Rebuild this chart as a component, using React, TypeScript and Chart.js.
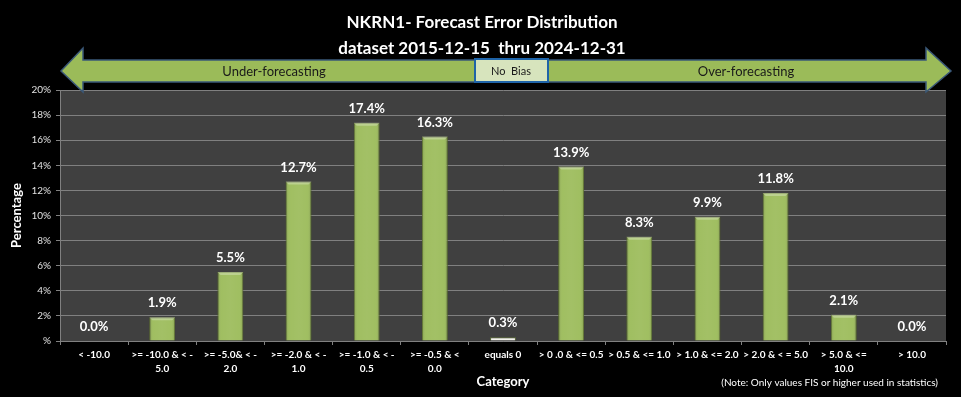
import React, { useEffect, useRef } from "react";
import { Chart, registerables } from "chart.js";

Chart.register(...registerables);

const titleLines = ["NKRN1- Forecast Error Distribution", "dataset 2015-12-15  thru 2024-12-31"];
const categories: (string | string[])[] = [
  "< -10.0",
  [">= -10.0 & < -", "5.0"],
  [">= -5.0& < -", "2.0"],
  [">= -2.0 & < -", "1.0"],
  [">= -1.0 & < -", "0.5"],
  [">= -0.5 & <", "0.0"],
  "equals 0",
  "> 0 .0 & <= 0.5",
  "> 0.5 & <= 1.0",
  "> 1.0 & <= 2.0",
  "> 2.0 & < = 5.0",
  ["> 5.0 & <=", "10.0"],
  "> 10.0",
];
const percentages = [0.0, 1.9, 5.5, 12.7, 17.4, 16.3, 0.3, 13.9, 8.3, 9.9, 11.8, 2.1, 0.0];
const yTickValues = [0, 2, 4, 6, 8, 10, 12, 14, 16, 18, 20];
const noteText = "(Note: Only values FIS or higher used in statistics)";
const leftArrowText = "Under-forecasting";
const rightArrowText = "Over-forecasting";
const midBoxText = "No  Bias";

const FONT = "Lato, 'Open Sans', sans-serif";

const decorPlugin = {
  id: "decor",
  beforeDraw(chart: any) {
    const { ctx, chartArea } = chart;
    ctx.save();
    ctx.fillStyle = "#000000";
    ctx.fillRect(0, 0, chart.width, chart.height);
    ctx.fillStyle = "#404040";
    ctx.fillRect(chartArea.left, chartArea.top, chartArea.right - chartArea.left, chartArea.bottom - chartArea.top);
    ctx.restore();
  },
  afterDraw(chart: any) {
    const { ctx } = chart;
    ctx.save();
    // title
    ctx.fillStyle = "#ffffff";
    ctx.textAlign = "center";
    ctx.textBaseline = "middle";
    ctx.font = `bold 17px ${FONT}`;
    ctx.fillText(titleLines[0], 482, 23);
    ctx.fillText(titleLines[1], 482, 49);

    // double arrow
    const tipL = 61, tipR = 951, headL = 83, headR = 926;
    const midY = 71, bodyT = 60, bodyB = 82, headT = 48, headB = 92;
    ctx.beginPath();
    ctx.moveTo(tipL, midY);
    ctx.lineTo(headL, headT);
    ctx.lineTo(headL, bodyT);
    ctx.lineTo(headR, bodyT);
    ctx.lineTo(headR, headT);
    ctx.lineTo(tipR, midY);
    ctx.lineTo(headR, headB);
    ctx.lineTo(headR, bodyB);
    ctx.lineTo(headL, bodyB);
    ctx.lineTo(headL, headB);
    ctx.closePath();
    ctx.fillStyle = "#9BBB59";
    ctx.fill();
    ctx.lineWidth = 1.5;
    ctx.strokeStyle = "#3A5878";
    ctx.stroke();

    // no bias box
    ctx.fillStyle = "#D7E4BD";
    ctx.fillRect(475, 59, 73, 23);
    ctx.lineWidth = 2;
    ctx.strokeStyle = "#1F64A8";
    ctx.strokeRect(475, 59, 73, 23);

    ctx.fillStyle = "#1a1a1a";
    ctx.font = `11px ${FONT}`;
    ctx.fillText(midBoxText, 511, 71);
    ctx.font = `13px ${FONT}`;
    ctx.fillText(leftArrowText, 274, 72);
    ctx.fillText(rightArrowText, 746, 72);

    // note
    ctx.fillStyle = "#ffffff";
    ctx.font = `10px ${FONT}`;
    ctx.textAlign = "right";
    ctx.fillText(noteText, 938, 383);
    ctx.restore();
  },
  afterDatasetsDraw(chart: any) {
    const { ctx } = chart;
    const meta = chart.getDatasetMeta(0);
    ctx.save();
    meta.data.forEach((el: any, i: number) => {
      const w = el.width;
      const h = el.base - el.y;
      if (i !== 6 && h > 3) {
        const g = ctx.createLinearGradient(el.x - w / 2, 0, el.x + w / 2, 0);
        g.addColorStop(0, "rgba(0,0,0,0.18)");
        g.addColorStop(0.15, "rgba(255,255,255,0.05)");
        g.addColorStop(0.5, "rgba(255,255,255,0.08)");
        g.addColorStop(0.85, "rgba(255,255,255,0.05)");
        g.addColorStop(1, "rgba(0,0,0,0.18)");
        ctx.fillStyle = g;
        ctx.fillRect(el.x - w / 2, el.y, w, h);
        ctx.fillStyle = "rgba(255,255,255,0.28)";
        ctx.beginPath();
        ctx.moveTo(el.x - w / 2, el.y);
        ctx.lineTo(el.x + w / 2, el.y);
        ctx.lineTo(el.x + w / 2 - 3, el.y + 3);
        ctx.lineTo(el.x - w / 2 + 3, el.y + 3);
        ctx.closePath();
        ctx.fill();
      }
      ctx.fillStyle = "#ffffff";
      ctx.font = `bold 13px ${FONT}`;
      ctx.textAlign = "center";
      ctx.textBaseline = "middle";
      ctx.fillText(`${percentages[i].toFixed(1)}%`, el.x, el.y - 14);
    });
    ctx.restore();
  },
};

export default function App() {
  const ref = useRef<HTMLCanvasElement | null>(null);
  useEffect(() => {
    document.body.style.margin = "0";
    document.body.style.background = "#000";
    const canvas = ref.current!;
    const chart = new Chart(canvas, {
      type: "bar",
      data: {
        labels: categories,
        datasets: [
          {
            data: percentages,
            backgroundColor: percentages.map((_, i) => (i === 6 ? "#F2F2EA" : "#9BBB59")),
            borderColor: percentages.map((_, i) => (i === 6 ? "#5E6E3C" : "#71893A")),
            borderWidth: 1,
            categoryPercentage: 1,
            barPercentage: 0.38,
          },
        ],
      },
      options: {
        responsive: false,
        animation: false,
        devicePixelRatio: 1,
        layout: { padding: { left: 0, right: 15, top: 90, bottom: 0 } },
        plugins: {
          legend: { display: false },
          title: { display: false },
          tooltip: { enabled: false },
        },
        scales: {
          x: {
            afterFit: (s: any) => {
              s.height = 56;
            },
            grid: {
              display: true,
              drawOnChartArea: false,
              drawTicks: true,
              tickLength: 4,
              color: "#808080",
              offset: true,
            },
            border: { display: true, color: "#808080" },
            ticks: {
              color: "#ffffff",
              font: { family: FONT, size: 10, weight: "bold", lineHeight: "14px" } as any,
              maxRotation: 0,
              minRotation: 0,
              autoSkip: false,
              padding: 3,
            },
            title: {
              display: true,
              text: "Category",
              color: "#ffffff",
              font: { family: FONT, size: 13, weight: "bold" },
              padding: { top: 0, bottom: 7 },
            },
          },
          y: {
            min: 0,
            max: 20,
            afterFit: (s: any) => {
              s.width = 60;
            },
            afterBuildTicks: (s: any) => {
              s.ticks = yTickValues.map((v) => ({ value: v }));
            },
            grid: {
              color: "#808080",
              lineWidth: 1,
              tickLength: 4,
              drawTicks: true,
            },
            border: { display: true, color: "#808080" },
            ticks: {
              color: "#e0e0e0",
              font: { family: FONT, size: 10 },
              padding: 5,
              callback: (v: any) => (Number(v) === 0 ? "%" : `${v}%`),
            },
            title: {
              display: true,
              text: "Percentage",
              color: "#ffffff",
              font: { family: FONT, size: 13, weight: "bold" },
              padding: { top: 9, bottom: 0 },
            },
          },
        },
      },
      plugins: [decorPlugin],
    });
    return () => chart.destroy();
  }, []);
  return (
    <div style={{ width: 961, height: 397, background: "#000" }}>
      <canvas ref={ref} width={961} height={397} style={{ display: "block" }} />
    </div>
  );
}
